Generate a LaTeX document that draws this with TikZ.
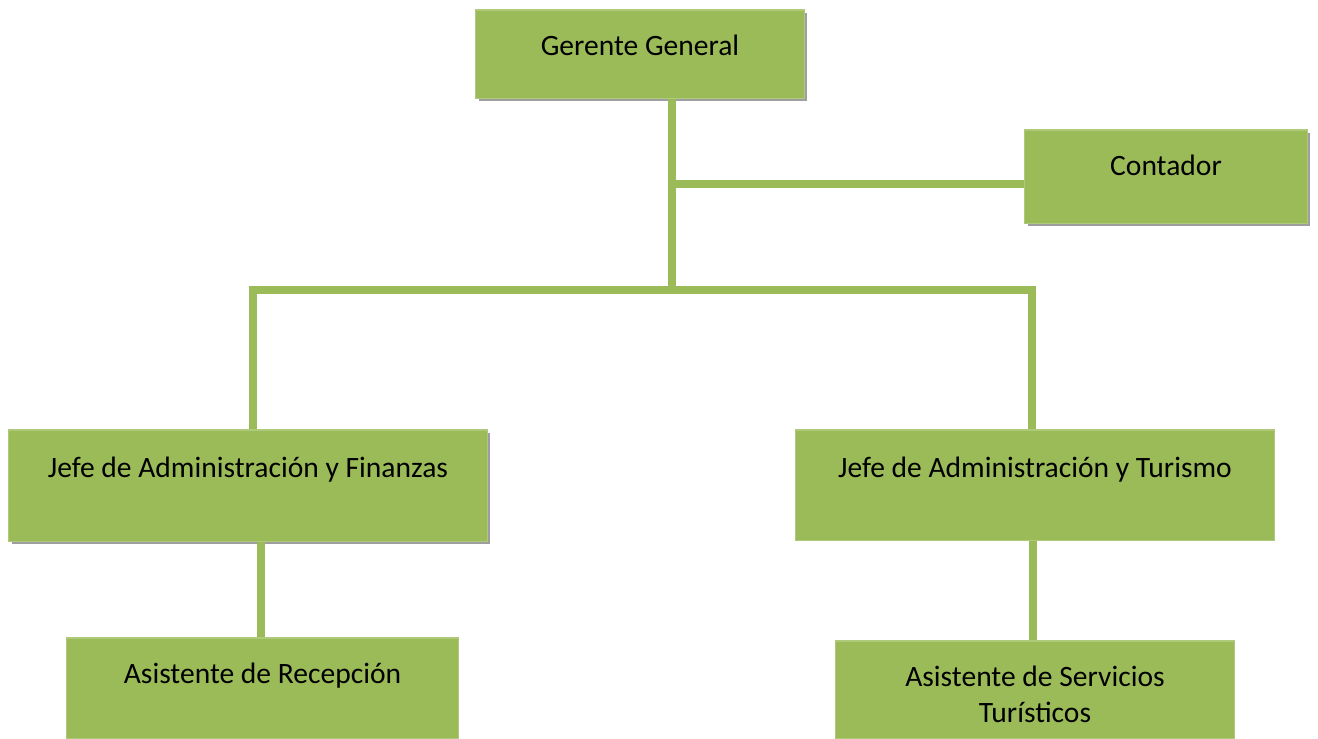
\documentclass[tikz,border=0pt]{standalone}
\usepackage{fontspec}
\setmainfont{Carlito}
\usetikzlibrary{positioning,shadows}
\definecolor{verdeorg}{HTML}{9BBB59}

\begin{document}
\begin{tikzpicture}[x=0.01cm,y=-0.01cm,
    puesto/.style={fill=verdeorg,draw=verdeorg!80!white,line width=0.3pt,inner sep=0pt},
    sombra/.style={drop shadow={shadow xshift=0.03cm,shadow yshift=-0.03cm,fill=black!38,opacity=1}},
    rotulo/.style={font=\fontsize{8.4}{10}\selectfont,align=center,inner sep=0pt,anchor=base},
    enlace/.style={draw=verdeorg,line width=0.08cm}
]
\useasboundingbox (0,0) rectangle (1318,738);

% cajas
\node[puesto,sombra,minimum width=3.28cm,minimum height=0.88cm] (gerente) at (640,54) {};
\node[puesto,sombra,minimum width=2.82cm,minimum height=0.93cm] (contador) at (1166,176.5) {};
\node[puesto,sombra,minimum width=4.78cm,minimum height=1.11cm] (jefefin) at (248,485.5) {};
\node[puesto,minimum width=4.78cm,minimum height=1.10cm] (jefetur) at (1035,485) {};
\node[puesto,minimum width=3.91cm,minimum height=1.00cm] (asisrec) at (262.5,688) {};
\node[puesto,minimum width=3.98cm,minimum height=0.97cm] (asisserv) at (1035,689.5) {};

% textos
\node[rotulo] (gerente-t) at (640,55) {Gerente General};
\node[rotulo] (contador-t) at (1166,175) {Contador};
\node[rotulo] (jefefin-t) at (248,477) {Jefe de Administración y Finanzas};
\node[rotulo] (jefetur-t) at (1035,477) {Jefe de Administración y Turismo};
\node[rotulo] (asisrec-t) at (262.5,683) {Asistente de Recepción};
\node[rotulo] (asisserv-t) at (1035,722) {Asistente de Servicios\\Turísticos};

% puntos de enlace
\coordinate (cruce1) at (672,184);
\coordinate (cruce2) at (672,290);
\coordinate (ramaizq) at (253,290);
\coordinate (ramader) at (1032,290);
\coordinate (bajaizq) at (261,590);
\coordinate (bajader) at (1033,590);

% lineas
\draw[enlace] (gerente.south -| cruce2) -- (cruce2);
\draw[enlace] (cruce1) -- (contador.west |- cruce1);
\draw[enlace] (jefefin.north -| ramaizq) -- (ramaizq) -- (ramader) -- (jefetur.north -| ramader);
\draw[enlace] (jefefin.south -| bajaizq) -- (asisrec.north -| bajaizq);
\draw[enlace] (jefetur.south -| bajader) -- (asisserv.north -| bajader);
\end{tikzpicture}
\end{document}
